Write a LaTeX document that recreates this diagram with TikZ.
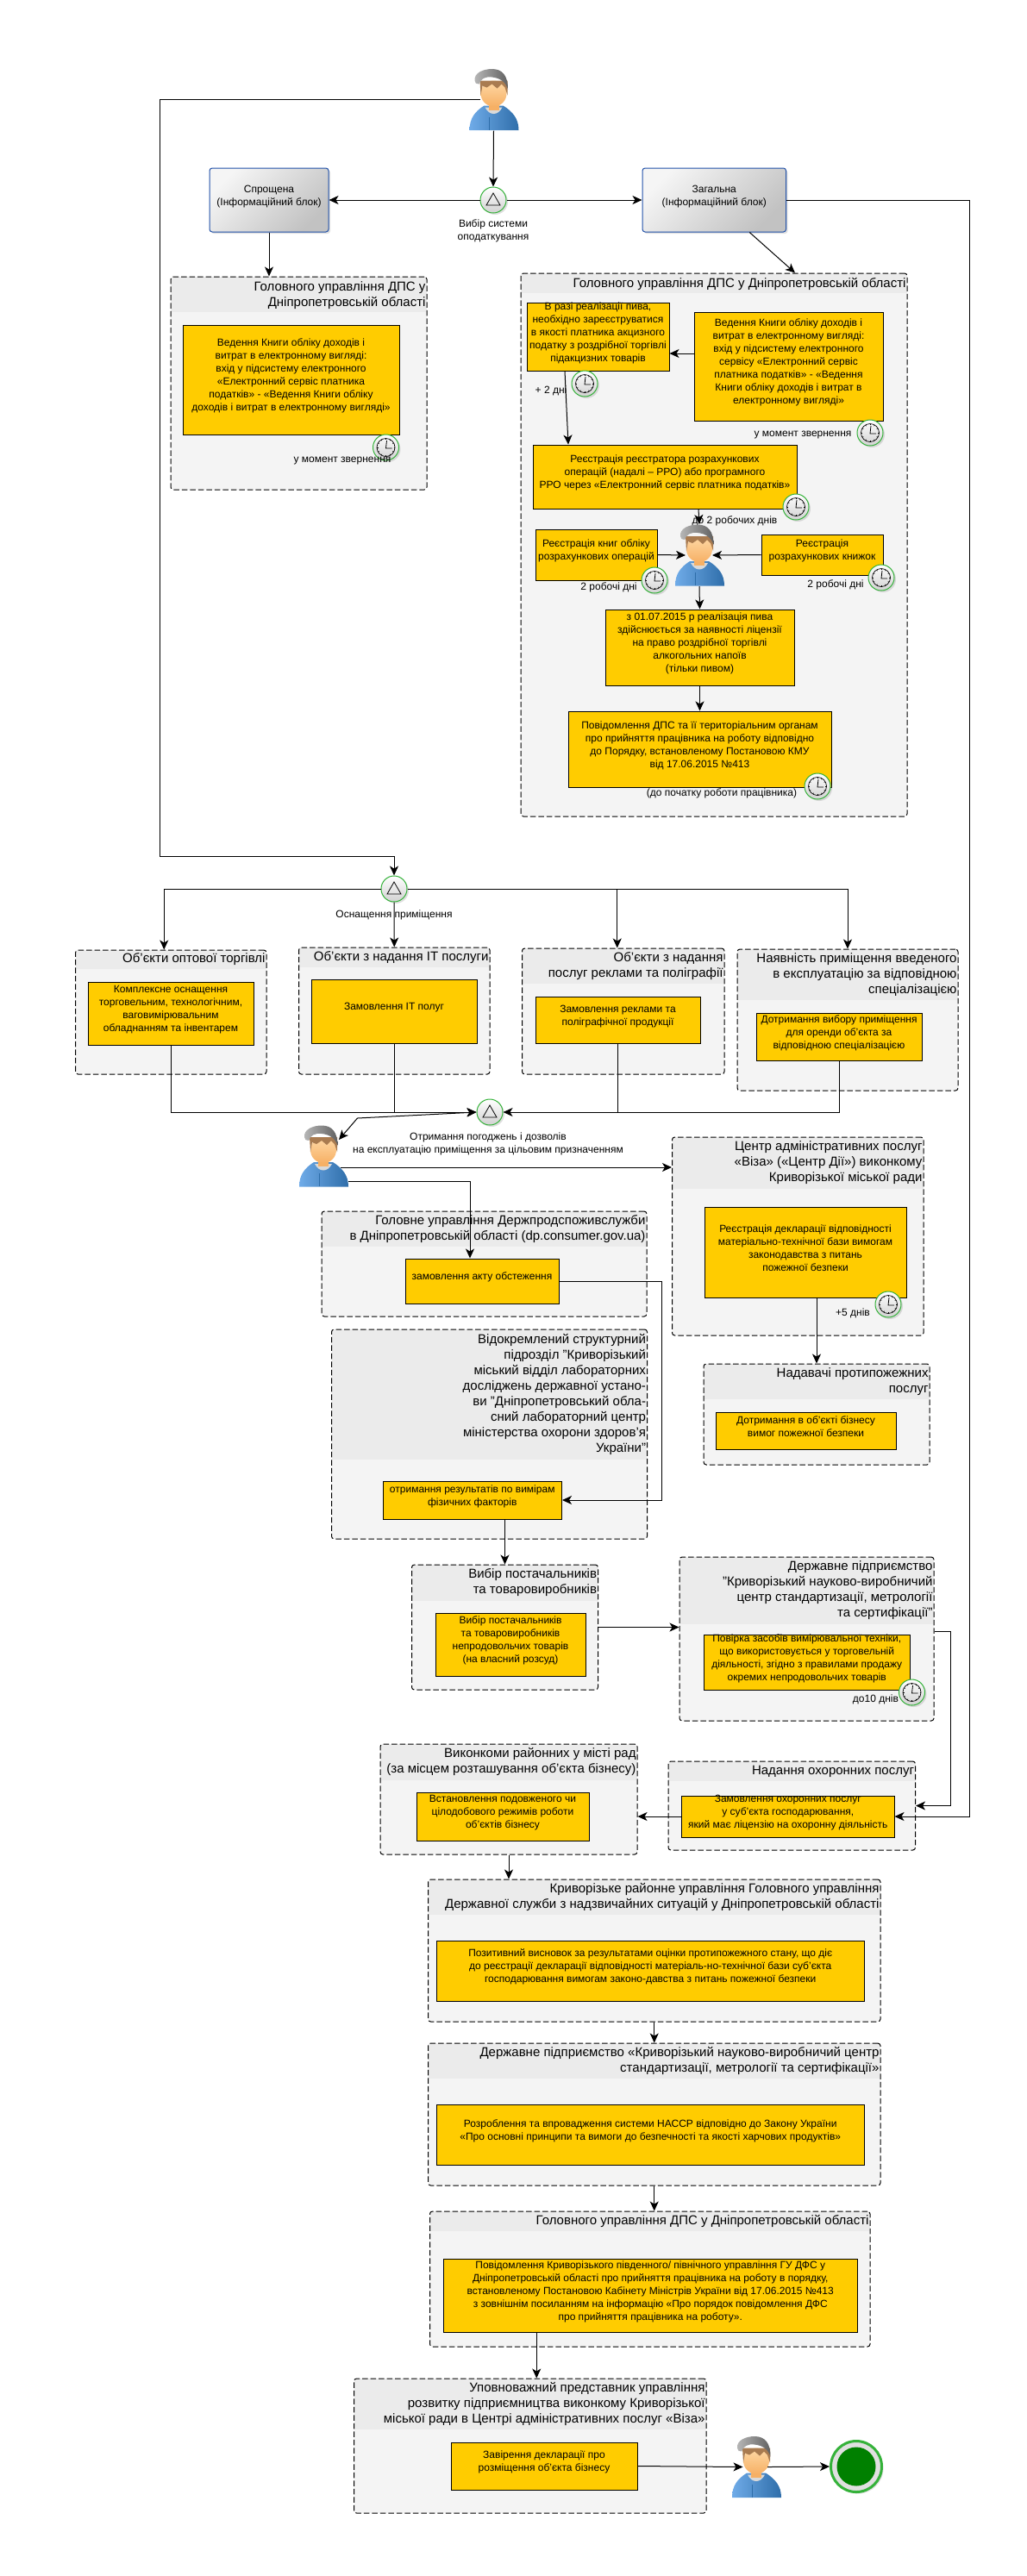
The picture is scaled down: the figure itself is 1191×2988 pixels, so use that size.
\documentclass[tikz,border=0pt]{standalone}
\usepackage{fontspec}
\setmainfont{Liberation Sans}
\usepackage{xcolor}
\usetikzlibrary{shapes,positioning,fit,arrows.meta,shadows}
\definecolor{taskyellow}{HTML}{FFCC00}
\definecolor{lanefill}{HTML}{F4F4F4}
\definecolor{lanehead}{HTML}{EBEBEB}
\definecolor{eventgreen}{HTML}{35B23A}
\definecolor{endgreen}{HTML}{008000}
\definecolor{blockblue}{HTML}{1F4FA8}
\definecolor{hoodlight}{HTML}{6FABE8}
\definecolor{hooddark}{HTML}{2F6EAA}
\definecolor{skinlight}{HTML}{FFD9A6}
\definecolor{skindark}{HTML}{F6B065}
\definecolor{hairbrown}{HTML}{A97B50}
\tikzset{
    userfig/.pic={
        \shade [left color=hoodlight, right color=hooddark] (-28,35.5) .. controls (-28,22) and (-22,14) .. (-11,7) -- (11,7) .. controls (22,14) and (29,22) .. (29,35.5) -- cycle;
        \draw [hooddark] (-5,20) -- (-5,35);
        \fill [black!15] (-10,9) .. controls (-5,19) and (5,19) .. (10,9) -- cycle;
        \fill [skindark] (-6,2) rectangle (6,12);
        \shade [top color=skinlight, bottom color=skindark] (0,-7) ellipse (15 and 15);
        \fill [hairbrown] (-16,-22) -- (16,-22) -- (16,-5) -- (13,-14) -- (9,-18) -- (4,-13) -- (-2,-18) -- (-8,-14) -- (-13,-16) -- (-15,-5) -- cycle;
        \shade [left color=black!28, right color=black!62] (-22,-22) .. controls (-23,-31) and (-12,-35.5) .. (-2,-35.5) .. controls (10,-35.5) and (16.5,-28) .. (16.5,-12) .. controls (14,-20) and (8,-25) .. (-2,-26) .. controls (-10,-27) and (-15,-24) .. (-17,-18) .. controls (-20,-18) and (-22,-19) .. (-22,-22) -- cycle;
    }
}
\begin{document}
\begin{tikzpicture}[x=1pt, y=-1pt, line width=1pt,
    flow/.style={-{Stealth[length=11pt,width=10pt,inset=3pt]}},
    flowboth/.style={{Stealth[length=11pt,width=10pt,inset=3pt]}-{Stealth[length=11pt,width=10pt,inset=3pt]}},
    lane/.style={draw, dash pattern=on 6.5pt off 3pt, rounded corners=3, fill=lanefill, inner sep=0,
        path picture={\fill [lanehead, sharp corners] (path picture bounding box.north west) rectangle ([yshift=-#1]path picture bounding box.north east);}},
    lanetitle/.style={anchor=east, align=right, inner sep=1.5, font=\fontsize{15}{18}\selectfont},
    task/.style={draw, fill=taskyellow, align=center, inner sep=0, font=\fontsize{12}{15}\selectfont},
    note/.style={align=center, inner sep=0, font=\fontsize{12}{15}\selectfont},
    block/.style={draw=blockblue, rounded corners=3, inner sep=0, align=center, font=\fontsize{12}{15}\selectfont,
        top color=black!4, bottom color=black!24, shading angle=45,
        drop shadow={shadow xshift=2pt, shadow yshift=-2pt, opacity=.25}},
    gate/.style={circle, minimum size=30, inner sep=0, draw=eventgreen, top color=white, bottom color=black!18,
        drop shadow={shadow xshift=2pt, shadow yshift=-2pt, opacity=.25},
        path picture={\draw [black, line width=.8pt] ([shift={(0,-8)}]path picture bounding box.center) -- ([shift={(8,6)}]path picture bounding box.center) -- ([shift={(-8,6)}]path picture bounding box.center) -- cycle;}},
    clock/.style={circle, minimum size=30, inner sep=0, draw=eventgreen, top color=white, bottom color=black!18,
        drop shadow={shadow xshift=2pt, shadow yshift=-2pt, opacity=.25},
        path picture={
            \draw [black, line width=.7pt] (path picture bounding box.center) circle (10.5);
            \foreach \a in {0,30,...,330}
                \draw [black, line width=.6pt] ([shift={(\a:9)}]path picture bounding box.center) -- ([shift={(\a:10.5)}]path picture bounding box.center);
            \draw [black, line width=.8pt] ([shift={(1,-8)}]path picture bounding box.center) -- ([shift={(0,1)}]path picture bounding box.center) -- ([shift={(7,1)}]path picture bounding box.center);
        }},
    endevent/.style={circle, minimum size=59, inner sep=0, draw=eventgreen, line width=3pt, fill=black!12,
        drop shadow={shadow xshift=2pt, shadow yshift=-2pt, opacity=.25},
        path picture={\fill [endgreen] (path picture bounding box.center) circle (22.5);}},
    usernode/.style={minimum width=57, minimum height=71, inner sep=0}]
    \useasboundingbox (0,0) rectangle (1191,2988);

    \node [usernode] (user1) at (572.5,115.5) {};
    \node [gate] (gw1) at (572,232) {};
    \node [note] (lblgw1) at (572,268) {Вибір системи\\оподаткування};
    \node [block, fit={(243,195) (381,269)}] (simple) {Спрощена\\(Інформаційний блок)};
    \node [block, fit={(745,195) (911.5,269)}] (general) {Загальна\\(Інформаційний блок)};

    \node [lane=41, fit={(198,321) (495,568)}] (lane1) {};
    \node [lanetitle] (lane1t) at ([yshift=-22]lane1.north east) {Головного управління ДПС у\\Дніпропетровській області};
    \node [task, fit={(212,377) (463,504)}] (task1) {Ведення Книги обліку доходів і\\витрат в електронному вигляді:\\вхід у підсистему електронного\\«Електронний сервіс платника\\податків» - «Ведення Книги обліку\\доходів і витрат в електронному вигляді»};
    \node [clock] (clock1) at (447.5,519) {};
    \node [note] (lbl1) at (397,535) {у момент звернення};

    \node [lane=23, fit={(604,317) (1052,947)}] (lane2) {};
    \node [lanetitle] (lane2t) at ([yshift=-13]lane2.north east) {Головного управління ДПС у Дніпропетровській області};
    \node [task, fit={(611,351) (776,430)}] (beer) {В разі реалізації пива,\\необхідно зареєструватися\\в якості платника акцизного\\податку з роздрібної торгівлі\\підакцизних товарів};
    \node [task, fit={(805,362) (1024,488)}] (book) {Ведення Книги обліку доходів і\\витрат в електронному вигляді:\\вхід у підсистему електронного\\сервісу «Електронний сервіс\\платника податків» - «Ведення\\Книги обліку доходів і витрат в\\електронному вигляді»};
    \node [clock] (clock2) at (678,445) {};
    \node [note] (lbl2) at (639,453) {+ 2 дні};
    \node [clock] (clock3) at (1009,502) {};
    \node [note] (lbl3) at (931,505) {у момент звернення};
    \node [task, fit={(618,516) (924,590)}] (rro) {Реєстрація реєстратора розрахункових\\операцій (надалі – РРО) або програмного\\РРО через «Електронний сервіс платника податків»};
    \node [usernode] (user2) at (811,644) {};
    \node [task, fit={(621,614) (762,673)}] (bookop) {Реєстрація книг обліку\\розрахункових операцій};
    \node [task, fit={(883,620) (1024,667)}] (bookbill) {Реєстрація\\розрахункових книжок};
    \node [task, fit={(702,707) (921,795)}] (licence) {з 01.07.2015 р реалізація пива\\здійснюється за наявності ліцензії\\на право роздрібної торгівлі\\алкогольних напоїв\\(тільки пивом)};
    \node [task, fit={(659,825) (964,913)}] (notice) {Повідомлення ДПС та її територіальним органам\\про прийняття працівника на роботу відповідно\\до Порядку, встановленому Постановою КМУ\\від 17.06.2015 №413};
    \node [clock] (clock4) at (923,588) {};
    \node [note] (lbl4) at (852,604) {до 2 робочих днів};
    \node [clock] (clock5) at (759,673) {};
    \node [note] (lbl5) at (706,681) {2 робочі дні};
    \node [clock] (clock6) at (1022,670) {};
    \node [note] (lbl6) at (969,678) {2 робочі дні};
    \node [clock] (clock7) at (948,912) {};
    \node [note] (lbl7) at (837,920) {(до початку роботи працівника)};

    \node [gate] (gw2) at (457,1031) {};
    \node [lane=22, fit={(87.5,1102) (309,1246)}] (lanea) {};
    \node [lanetitle] (laneat) at ([yshift=-11]lanea.north east) {Об'єкти оптової торгівлі};
    \node [task, fit={(102,1139) (294,1212)}] (taska) {Комплексне оснащення\\торговельним, технологічним,\\ваговимірювальним\\обладнанням та інвентарем};
    \node [lane=23, fit={(346.5,1099) (568,1246)}] (laneb) {};
    \node [lanetitle] (lanebt) at ([yshift=-12]laneb.north east) {Об'єкти з надання IT послуги};
    \node [task, fit={(361,1136) (553,1210)}] (taskb) {Замовлення IT полуг};
    \node [lane=41, fit={(605.5,1100) (840,1246)}] (lanec) {};
    \node [lanetitle] (lanect) at ([yshift=-21]lanec.north east) {Об'єкти з надання\hspace{4pt}\\послуг реклами та поліграфії};
    \node [task, fit={(621,1156) (812,1210)}] (taskc) {Замовлення реклами та\\поліграфічної продукції};
    \node [lane=59, fit={(855,1101) (1111,1265)}] (laned) {};
    \node [lanetitle] (lanedt) at ([yshift=-30]laned.north east) {Наявність приміщення введеного\\в експлуатацію за відповідною\\спеціалізацією};
    \node [task, fit={(877,1175) (1069,1230)}] (taskd) {Дотримання вибору приміщення\\для оренди об'єкта за\\відповідною спеціалізацією};
    \node [note] (lblgw2) at (457,1061) {Оснащення приміщення};
    \node [gate] (gw3) at (568,1290) {};
    \node [note] (lblgw3) at (566,1327) {Отримання погоджень і дозволів\\на експлуатацію приміщення за цільовим призначенням};
    \node [usernode] (user3) at (375,1341) {};

    \node [lane=41, fit={(373,1405) (750,1527)}] (lanecons) {};
    \node [lanetitle] (lanecont) at ([yshift=-21]lanecons.north east) {Головне управління Держпродспоживслужби\\в Дніпропетровській області (dp.consumer.gov.ua)};
    \node [task, fit={(470,1460) (648,1512)}] (survey) {замовлення акту обстеження};
    \node [lane=60, fit={(779.5,1319) (1071,1549)}] (lanecnap) {};
    \node [lanetitle] (lanecnapt) at ([yshift=-30]lanecnap.north east) {Центр адміністративних послуг\\«Віза» («Центр Дії») виконкому\hspace{4pt}\\Криворізької міської ради};
    \node [task, fit={(817,1400) (1051,1505)}] (declar) {Реєстрація декларації відповідності\\матеріально-технічної бази  вимогам\\законодавства з питань\\пожежної безпеки};
    \node [clock] (clock8) at (1030,1513) {};
    \node [note] (lbl8) at (989,1523) {+5 днів};
    \node [lane=41, fit={(816,1582) (1078,1699)}] (lanefire) {};
    \node [lanetitle] (lanefiret) at ([yshift=-21]lanefire.north east) {Надавачі протипожежних\hspace{4pt}\\послуг};
    \node [task, fit={(830,1638) (1039,1681)}] (taskfire) {Дотримання в об'єкті бізнесу\\вимог пожежної безпеки};
    \node [lane=151, fit={(384.5,1542) (750.5,1785)}] (lanelab) {};
    \node [lanetitle] (lanelabt) at ([yshift=-76]lanelab.north east) {Відокремлений структурний\hspace{4pt}\\підрозділ "Криворізький\\міський відділ лабораторних\hspace{4pt}\\досліджень державної устано-\\ви "Дніпропетровський обла-\\сний лабораторний центр\hspace{4pt}\\міністерства охорони здоров'я\\України"};
    \node [task, fit={(444,1718) (651.5,1762)}] (results) {отримання результатів по вимірам\\фізичних факторів\\[9pt]};

    \node [lane=42, fit={(477.5,1815) (693.5,1960)}] (lanesup) {};
    \node [lanetitle] (lanesupt) at ([yshift=-21]lanesup.north east) {Вибір постачальників\\та товаровиробників};
    \node [task, fit={(505,1871) (679,1944)}] (tasksup) {Вибір постачальників\\та товаровиробників\\непродовольчих товарів\\(на власний розсуд)};
    \node [lane=78, fit={(788,1806) (1083,1996)}] (lanemet) {};
    \node [lanetitle] (lanemett) at ([yshift=-39]lanemet.north east) {Державне підприємство\\"Криворізький науково-виробничий\\центр стандартизації, метрології\\та сертифікації"};
    \node [task, fit={(816,1896) (1055.5,1960)}] (taskmet) {Повірка засобів вимірювальної техніки,\\що використовується у торговельній\\діяльності,  згідно з правилами продажу\\окремих непродовольчих товарів};
    \node [clock] (clock9) at (1057.5,1963) {};
    \node [note] (lbl9) at (1015.5,1971) {до10 днів};

    \node [lane=42, fit={(441,2023) (739,2151)}] (lanecity) {};
    \node [lanetitle] (lanecityt) at ([yshift=-21]lanecity.north east) {Виконкоми районних у місті рад\hspace{6pt}\\(за місцем розташування об'єкта бізнесу)};
    \node [task, fit={(483,2079) (683,2135)}] (taskcity) {Встановлення подовженого чи\\цілодобового режимів роботи\\об'єктів бізнесу};
    \node [lane=23, fit={(775,2043) (1061.5,2146)}] (laneguard) {};
    \node [lanetitle] (laneguardt) at ([yshift=-12]laneguard.north east) {Надання охоронних послуг};
    \node [task, fit={(790.5,2083) (1037,2131)}] (taskguard) {Замовлення охоронних послуг\\у суб'єкта господарювання,\\який має ліцензію на охоронну діяльність};

    \node [lane=41, fit={(496.5,2180) (1021,2345)}] (laneemer) {};
    \node [lanetitle] (laneemert) at ([yshift=-21]laneemer.north east) {Криворізьке районне управління Головного управління\hspace{4pt}\\Державної служби з надзвичайних ситуацій у Дніпропетровській області};
    \node [task, fit={(506.5,2251) (1002,2321)}] (taskemer) {Позитивний висновок за результатами оцінки протипожежного стану, що діє\\до реєстрації  декларації відповідності матеріаль-но-технічної бази суб'єкта\\господарювання вимогам законо-давства з питань пожежної безпеки};
    \node [lane=41, fit={(496.5,2370) (1021,2535)}] (lanehaccp) {};
    \node [lanetitle] (lanehaccpt) at ([yshift=-21]lanehaccp.north east) {Державне підприємство «Криворізький науково-виробничий центр\\стандартизації, метрології та сертифікації»};
    \node [task, fit={(506.5,2441) (1002,2511)}] (taskhaccp) {Розроблення та впровадження системи НАССР відповідно до Закону України\\«Про основні принципи та вимоги до безпечності та якості харчових продуктів»};
    \node [lane=23, fit={(498.5,2565) (1009,2722)}] (lanetax) {};
    \node [lanetitle] (lanetaxt) at ([yshift=-12]lanetax.north east) {Головного управління ДПС у Дніпропетровській області};
    \node [task, fit={(514.5,2620) (994,2705)}] (tasktax) {Повідомлення Криворізького південного/ північного управління ГУ ДФС у\\Дніпропетровській області про прийняття працівника на роботу в порядку,\\встановленому Постановою Кабінету Міністрів України від 17.06.2015 №413\\з зовнішнім посиланням на інформацію «Про порядок повідомлення ДФС\\про прийняття працівника на роботу».};
    \node [lane=59, fit={(410.5,2759) (819,2915)}] (lanefin) {};
    \node [lanetitle] (lanefint) at ([yshift=-30]lanefin.north east) {Уповноважний представник управління\hspace{6pt}\\розвитку підприємництва виконкому Криворізької\\міської ради в Центрі адміністративних послуг «Віза»};
    \node [task, fit={(523,2833) (739,2888)}] (taskfin) {Завірення декларації про\\розміщення об'єкта бізнесу};
    \node [usernode] (user4) at (877,2861.5) {};
    \node [endevent] (finish) at (993,2861) {};

    \foreach \u in {user1,user2,user3,user4}
        \pic at (\u) {userfig};

    \coordinate (leftrun) at (185,993);
    \coordinate (bigrun) at (1124,232);
    \coordinate (rightrun) at (767,1486);
    \coordinate (bend3) at (414.5,1297);
    \coordinate (metrun) at (1102,1892);

    \draw [flow] (user1.south) -- (gw1.north);
    \draw [flow] (gw1.west) -- (simple.east);
    \draw [flow] (gw1.east) -- (general.west);
    \draw [flow] (simple.south) -- (simple.south |- lane1.north);
    \draw [flow] ([xshift=41]general.south) -- ([xshift=94]lane2.north);
    \draw [flow] (general.east) -- (bigrun) |- (taskguard.east);
    \draw [flow] ([xshift=-16]user1.center) -| (leftrun) -| (gw2.north);

    \draw [flow] ([yshift=15]book.west) -- ([yshift=-19.5]beer.east);
    \draw [flow] ([xshift=-38.5]beer.south) -- ([xshift=-112]rro.north);
    \draw [flow] ([xshift=39]rro.south) -- (user2.north);
    \draw [flow] (bookop.east) -- ([xshift=-16]user2.center);
    \draw [flow] (bookbill.west) -- ([xshift=15]user2.center);
    \draw [flow] (user2.south) -- (licence.north);
    \draw [flow] (licence.south) -- (notice.north);

    \draw [flow] (gw2.west) -| ([xshift=-8]lanea.north);
    \draw [flow] (gw2.south) -- (laneb.north);
    \draw [flow] (gw2.east) -| ([xshift=-7]lanec.north);
    \draw [flow] (gw2.east) -| (laned.north);
    \draw [flow] (taska.south) |- (gw3.west);
    \draw (taskb.south) -- (taskb.south |- gw3.west);
    \draw (taskc.south) -- (taskc.south |- gw3.east);
    \draw [flow] (taskd.south) |- (gw3.east);

    \draw [flowboth] (gw3.west) -- (bend3) -- ([shift={(18,-19)}]user3.center);
    \draw [flow] ([shift={(20,13)}]user3.center) -- ([yshift=80]lanecnap.west);
    \draw [flow] ([yshift=-29]user3.east) -| ([xshift=-14]survey.north);
    \draw [flow] (survey.east) -- (rightrun) |- (results.east);
    \draw [flow] (results.south -| lanesup.north) -- (lanesup.north);
    \draw [flow] (declar.south -| lanefire.north) -- (lanefire.north);
    \draw [flow] (lanesup.east) -- (lanesup.east -| lanemet.west);
    \draw [flow] ([yshift=9]lanemet.east) -- (metrun) |- (laneguard.east);
    \draw [flow] (taskguard.west) -- (taskguard.west -| lanecity.east);
    \draw [flow] (lanecity.south) -- (lanecity.south |- laneemer.north);
    \draw [flow] (laneemer.south) -- (lanehaccp.north);
    \draw [flow] (lanehaccp.south) -- (lanehaccp.south |- lanetax.north);
    \draw [flow] ([xshift=-132]tasktax.south) -- ([xshift=-132]tasktax.south |- lanefin.north);
    \draw [flow] (taskfin.east) -- ([xshift=-15.5]user4.center);
    \draw [flow] ([xshift=13]user4.center) -- (finish.west);
\end{tikzpicture}
\end{document}
